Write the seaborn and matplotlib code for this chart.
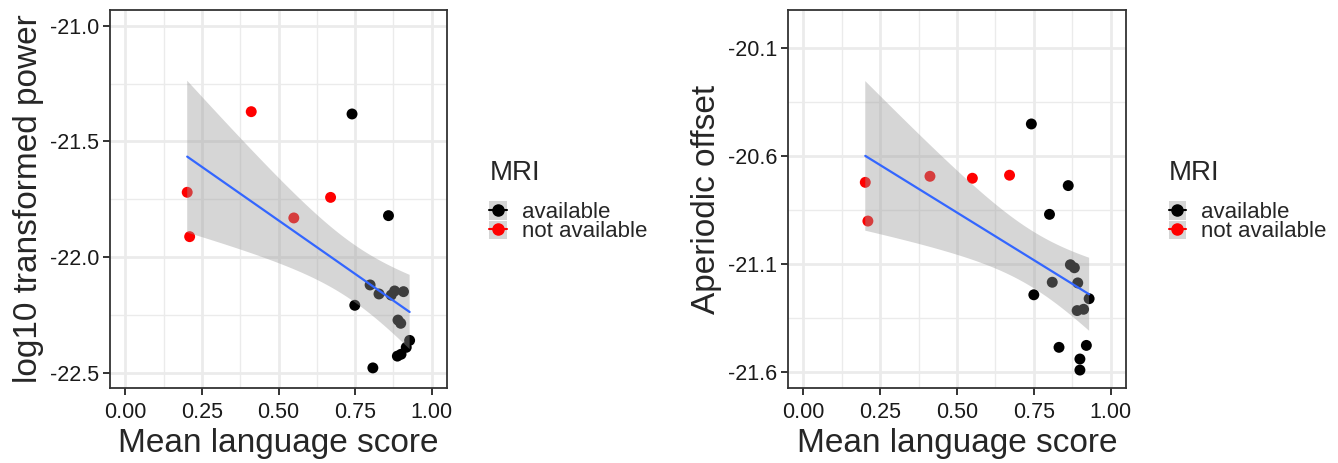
import numpy as np
import pandas as pd
import seaborn as sns
import matplotlib
matplotlib.use("Agg")
import matplotlib.pyplot as plt
from matplotlib.patches import Patch
from matplotlib.lines import Line2D
from matplotlib.ticker import FixedLocator

sns.set_style("white")
plt.rcParams['font.family'] = ['Liberation Sans', 'DejaVu Sans']

# ---- data: left panel (log10 transformed power) ----
left_x = [0.202, 0.210, 0.411, 0.550, 0.670,
          0.740, 0.859, 0.749, 0.808, 0.799, 0.828, 0.868, 0.879, 0.908,
          0.890, 0.899, 0.928, 0.917, 0.900, 0.888]
left_y = [-21.72, -21.912, -21.371, -21.831, -21.742,
          -21.381, -21.821, -22.209, -22.480, -22.121, -22.160, -22.165, -22.147, -22.150,
          -22.273, -22.287, -22.361, -22.391, -22.421, -22.429]
left_mri = ["not available"] * 5 + ["available"] * 15

# ---- data: right panel (aperiodic offset) ----
right_x = [0.2015, 0.210, 0.412, 0.550, 0.671,
           0.742, 0.862, 0.801, 0.750, 0.810, 0.869, 0.882, 0.893, 0.930,
           0.891, 0.912, 0.832, 0.921, 0.900, 0.900]
right_y = [-20.723, -20.902, -20.695, -20.704, -20.690,
           -20.453, -20.738, -20.871, -21.243, -21.185, -21.104, -21.118, -21.188, -21.261,
           -21.316, -21.310, -21.486, -21.477, -21.540, -21.591]
right_mri = ["not available"] * 5 + ["available"] * 15

x_ticks = [0.0, 0.25, 0.5, 0.75, 1.0]
x_ticklabels = ["0.00", "0.25", "0.50", "0.75", "1.00"]
left_yticks = [-21.0, -21.5, -22.0, -22.5]
left_yticklabels = ["-21.0", "-21.5", "-22.0", "-22.5"]
right_yticks = [-20.1, -20.6, -21.1, -21.6]
right_yticklabels = ["-20.1", "-20.6", "-21.1", "-21.6"]

groups = ["available", "not available"]
palette = {"available": "black", "not available": "red"}
T975_DF18 = 2.1009  # Student t quantile used for the 95% band (n = 20)

fig = plt.figure(figsize=(13.38, 4.63), dpi=100)
ax1 = fig.add_axes([110 / 1338, 75 / 463, 337 / 1338, 378 / 463])
ax2 = fig.add_axes([788 / 1338, 75 / 463, 338 / 1338, 378 / 463])


def panel(ax, xs, ys, mri, yticks, ylabels, ylim, ylabel, legx):
    df = pd.DataFrame({"x": xs, "y": ys, "MRI": mri})
    sns.scatterplot(data=df, x="x", y="y", hue="MRI", palette=palette,
                    hue_order=groups, s=62, edgecolor="none", legend=False,
                    ax=ax, zorder=2)
    # analytic 95% confidence band of the linear fit (as in ggplot geom_smooth)
    xa = np.asarray(xs)
    ya = np.asarray(ys)
    b, a = np.polyfit(xa, ya, 1)
    resid = ya - (a + b * xa)
    n = len(xa)
    s = np.sqrt(np.sum(resid ** 2) / (n - 2))
    grid = np.linspace(xa.min(), xa.max(), 100)
    se = s * np.sqrt(1 / n + (grid - xa.mean()) ** 2 / np.sum((xa - xa.mean()) ** 2))
    fit = a + b * grid
    ax.fill_between(grid, fit - T975_DF18 * se, fit + T975_DF18 * se,
                    facecolor="#999999", alpha=0.4, edgecolor="none", zorder=3)
    sns.regplot(data=df, x="x", y="y", scatter=False, ci=None, ax=ax,
                line_kws={"color": "#3366ff", "lw": 1.6, "zorder": 4})
    ax.set_xlim(-0.05, 1.05)
    ax.set_ylim(*ylim)
    ax.set_xticks(x_ticks)
    ax.set_xticklabels(x_ticklabels)
    ax.set_yticks(yticks)
    ax.set_yticklabels(ylabels)
    ax.xaxis.set_minor_locator(FixedLocator([0.125, 0.375, 0.625, 0.875]))
    step = yticks[1] - yticks[0]
    ax.yaxis.set_minor_locator(FixedLocator([t + step / 2 for t in yticks] + [yticks[0] - step / 2]))
    ax.grid(which="major", color="#ebebeb", lw=2.0, zorder=0)
    ax.grid(which="minor", color="#ebebeb", lw=1.0, zorder=0)
    ax.set_axisbelow(True)
    ax.tick_params(which="major", direction="out", length=5, width=1.4,
                   color="#333333", labelsize=15.5, labelcolor="#1a1a1a", pad=3,
                   bottom=True, left=True)
    ax.tick_params(axis="x", which="major", pad=5)
    ax.tick_params(which="minor", length=0)
    for sp in ax.spines.values():
        sp.set_color("#333333")
        sp.set_linewidth(1.3)
    ax.set_xlabel("Mean language score", fontsize=24, labelpad=4)
    ax.set_ylabel(ylabel, fontsize=24, labelpad=4)
    handles = [(Patch(facecolor="#d6d6d6", edgecolor="none"),
                Line2D([], [], color=palette[g], marker="o", markersize=8, lw=1.5))
               for g in groups]
    leg = ax.legend(handles, groups, title="MRI", loc="upper left",
                    bbox_to_anchor=(legx, 0.603), frameon=False, fontsize=16,
                    title_fontsize=20, handlelength=0.8, handleheight=0.9,
                    handletextpad=0.65, labelspacing=-0.12, borderaxespad=0,
                    borderpad=0)
    leg._legend_box.align = "left"
    leg._legend_box.sep = 11


panel(ax1, left_x, left_y, left_mri, left_yticks, left_yticklabels,
      (-22.567, -20.931), "log10 transformed power", 1.126)
panel(ax2, right_x, right_y, right_mri, right_yticks, right_yticklabels,
      (-21.674, -19.926), "Aperiodic offset", 1.126)

fig.savefig("out.png", dpi=100)
